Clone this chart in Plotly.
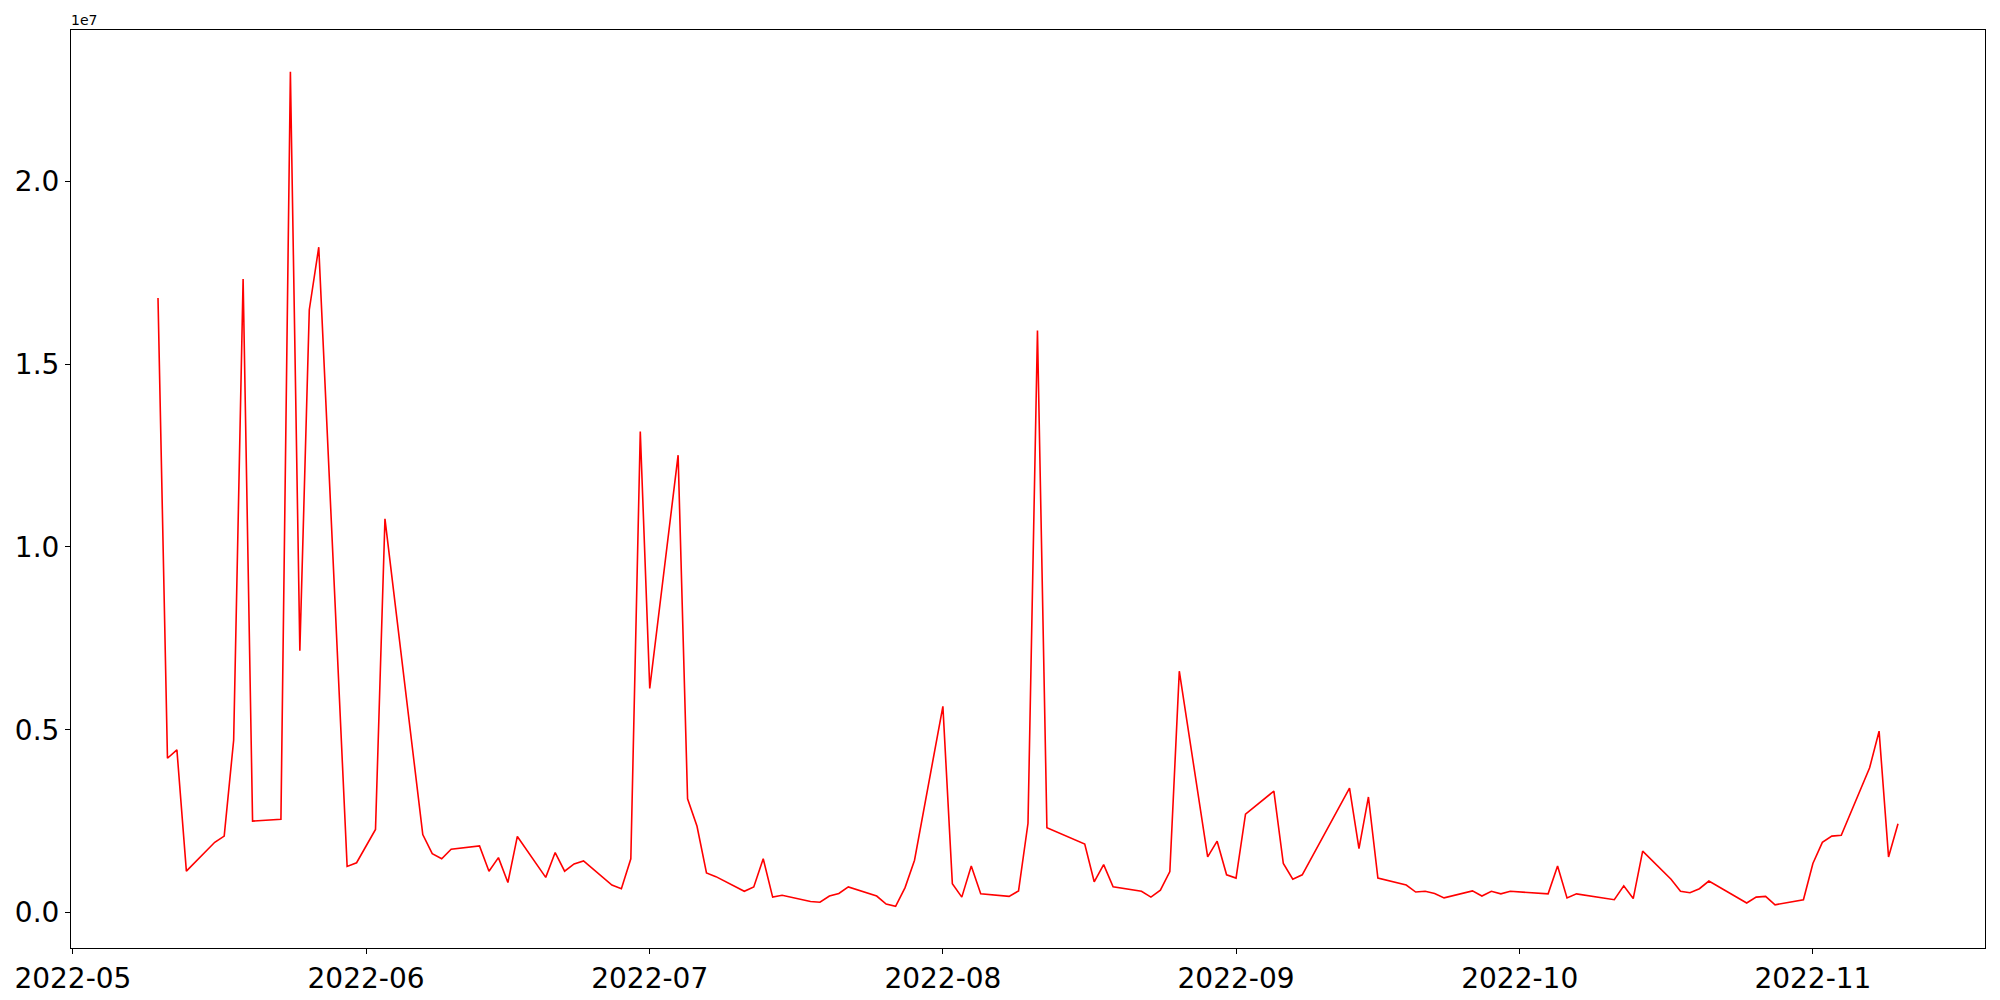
import pandas as pd
import plotly.graph_objects as go

dates = [
    "2022-05-10", "2022-05-11", "2022-05-12", "2022-05-13", "2022-05-16", "2022-05-17",
    "2022-05-18", "2022-05-19", "2022-05-20", "2022-05-23", "2022-05-24", "2022-05-25",
    "2022-05-26", "2022-05-27", "2022-05-30", "2022-05-31", "2022-06-02", "2022-06-03",
    "2022-06-07", "2022-06-08", "2022-06-09", "2022-06-10", "2022-06-13", "2022-06-14",
    "2022-06-15", "2022-06-16", "2022-06-17", "2022-06-20", "2022-06-21", "2022-06-22",
    "2022-06-23", "2022-06-24", "2022-06-27", "2022-06-28", "2022-06-29", "2022-06-30",
    "2022-07-01", "2022-07-04", "2022-07-05", "2022-07-06", "2022-07-07", "2022-07-08",
    "2022-07-11", "2022-07-12", "2022-07-13", "2022-07-14", "2022-07-15", "2022-07-18",
    "2022-07-19", "2022-07-20", "2022-07-21", "2022-07-22", "2022-07-25", "2022-07-26",
    "2022-07-27", "2022-07-28", "2022-07-29", "2022-08-01", "2022-08-02", "2022-08-03",
    "2022-08-04", "2022-08-05", "2022-08-08", "2022-08-09", "2022-08-10", "2022-08-11",
    "2022-08-12", "2022-08-16", "2022-08-17", "2022-08-18", "2022-08-19", "2022-08-22",
    "2022-08-23", "2022-08-24", "2022-08-25", "2022-08-26", "2022-08-29", "2022-08-30",
    "2022-08-31", "2022-09-01", "2022-09-02", "2022-09-05", "2022-09-06", "2022-09-07",
    "2022-09-08", "2022-09-13", "2022-09-14", "2022-09-15", "2022-09-16", "2022-09-19",
    "2022-09-20", "2022-09-21", "2022-09-22", "2022-09-23", "2022-09-26", "2022-09-27",
    "2022-09-28", "2022-09-29", "2022-09-30", "2022-10-04", "2022-10-05", "2022-10-06",
    "2022-10-07", "2022-10-11", "2022-10-12", "2022-10-13", "2022-10-14", "2022-10-17",
    "2022-10-18", "2022-10-19", "2022-10-20", "2022-10-21", "2022-10-25", "2022-10-26",
    "2022-10-27", "2022-10-28", "2022-10-31", "2022-11-01", "2022-11-02", "2022-11-03",
    "2022-11-04", "2022-11-07", "2022-11-08", "2022-11-09", "2022-11-10",
]

values = [
    16.81e6, 4.22e6, 4.45e6, 1.13e6, 1.92e6, 2.09e6,
    4.71e6, 17.33e6, 2.50e6, 2.55e6, 23.00e6, 7.16e6,
    16.49e6, 18.20e6, 1.26e6, 1.36e6, 2.27e6, 10.77e6,
    2.13e6, 1.61e6, 1.47e6, 1.73e6, 1.82e6, 1.13e6,
    1.50e6, 0.82e6, 2.08e6, 0.96e6, 1.64e6, 1.13e6,
    1.33e6, 1.41e6, 0.75e6, 0.65e6, 1.47e6, 13.16e6,
    6.13e6, 12.51e6, 3.11e6, 2.36e6, 1.08e6, 0.98e6,
    0.58e6, 0.70e6, 1.47e6, 0.42e6, 0.47e6, 0.30e6,
    0.28e6, 0.45e6, 0.52e6, 0.70e6, 0.45e6, 0.23e6,
    0.17e6, 0.68e6, 1.43e6, 5.64e6, 0.79e6, 0.42e6,
    1.27e6, 0.51e6, 0.44e6, 0.59e6, 2.44e6, 15.92e6,
    2.32e6, 1.87e6, 0.84e6, 1.31e6, 0.70e6, 0.58e6,
    0.42e6, 0.61e6, 1.12e6, 6.60e6, 1.52e6, 1.95e6,
    1.03e6, 0.94e6, 2.69e6, 3.32e6, 1.34e6, 0.91e6,
    1.03e6, 3.40e6, 1.75e6, 3.16e6, 0.94e6, 0.75e6,
    0.56e6, 0.58e6, 0.52e6, 0.40e6, 0.59e6, 0.45e6,
    0.58e6, 0.51e6, 0.58e6, 0.51e6, 1.27e6, 0.40e6,
    0.51e6, 0.35e6, 0.73e6, 0.38e6, 1.68e6, 0.91e6,
    0.58e6, 0.54e6, 0.65e6, 0.86e6, 0.26e6, 0.42e6,
    0.44e6, 0.21e6, 0.35e6, 1.34e6, 1.92e6, 2.09e6,
    2.11e6, 3.96e6, 4.96e6, 1.52e6, 2.43e6,
]

x_tick_vals = ["2022-05-01", "2022-06-01", "2022-07-01", "2022-08-01",
               "2022-09-01", "2022-10-01", "2022-11-01"]
x_tick_text = ["2022-05", "2022-06", "2022-07", "2022-08",
               "2022-09", "2022-10", "2022-11"]
y_tick_vals = [0, 0.5e7, 1.0e7, 1.5e7, 2.0e7]
y_tick_text = ["0.0", "0.5", "1.0", "1.5", "2.0"]

# matplotlib-like 5% auto margins
d = pd.to_datetime(dates)
span = d.max() - d.min()
x_range = [d.min() - span * 0.05, d.max() + span * 0.05]
vspan = max(values) - min(values)
y_range = [min(values) - 0.05 * vspan, max(values) + 0.05 * vspan]

fig = go.Figure()
fig.add_trace(go.Scatter(x=d, y=values, mode="lines",
                         line=dict(color="red", width=1.6), showlegend=False))

font = dict(family="DejaVu Sans", size=28, color="black")
axis_common = dict(showline=True, linecolor="black", linewidth=1.1, mirror=True,
                   ticks="outside", ticklen=5, tickwidth=1.1, tickcolor="black",
                   showgrid=False, zeroline=False, tickfont=font, automargin=False)

fig.update_xaxes(range=x_range, tickmode="array", tickvals=x_tick_vals,
                 ticktext=x_tick_text, **axis_common)
fig.update_yaxes(range=y_range, tickmode="array", tickvals=y_tick_vals,
                 ticktext=y_tick_text, **axis_common)

fig.add_annotation(text="1e7", xref="paper", yref="paper", x=0, y=1,
                   xanchor="left", yanchor="bottom", showarrow=False,
                   font=dict(family="DejaVu Sans", size=14, color="black"),
                   xshift=-2, yshift=0)

fig.update_layout(width=2000, height=1000, plot_bgcolor="white", paper_bgcolor="white",
                  margin=dict(l=71, r=15, t=30, b=52, pad=0))

fig.write_html("out.html", config={"displayModeBar": False},
               post_script="document.body.style.margin='0';document.body.style.overflow='hidden';")
